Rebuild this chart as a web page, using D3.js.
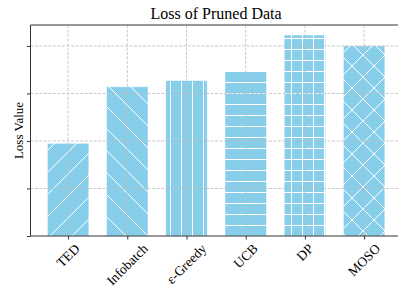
<!DOCTYPE html>
<html>
<head>
<meta charset="utf-8">
<script src="https://cdn.jsdelivr.net/npm/d3@7"></script>
<style>
  body { margin: 0; background: #fff; }
  text { font-family: "Liberation Serif", "DejaVu Serif", serif; fill: #000; }
</style>
</head>
<body>
<div id="chart"></div>
<script>
const methods = ["TED", "Infobatch", "\u03b5-Greedy", "UCB", "DP", "MOSO"];
const lossValues = [1.95, 3.14, 3.27, 3.47, 4.23, 4.0];
const hatches = ["/", "\\", "|", "-", "+", "x"];
const yTicks = [0, 1, 2, 3, 4];

const width = 398, height = 288;
const margin = { left: 30.5, top: 25, bottom: 236 };

const svg = d3.select("#chart")
  .append("svg")
  .attr("width", width)
  .attr("height", height);

// x runs like matplotlib's bar axis: bars at 0..5, small margins each side
const x = d3.scaleLinear().domain([-0.635, 5.635]).range([margin.left, 401.7]);
const y = d3.scaleLinear().domain([0, 4.44]).range([margin.bottom, margin.top]);
const barW = (x(0.7) - x(0));

// hatch patterns: straight lines every 11px, diagonals every 22px
const s = 11, d2 = 22;
const hatchDefs = {
  "/": [d2, `M0,${d2} L${d2},0 M-3,3 L3,-3 M${d2 - 3},${d2 + 3} L${d2 + 3},${d2 - 3}`],
  "\\": [d2, `M0,0 L${d2},${d2} M-3,${d2 - 3} L3,${d2 + 3} M${d2 - 3},-3 L${d2 + 3},3`],
  "|": [s, `M${s / 2},0 L${s / 2},${s}`],
  "-": [s, `M0,${s / 2} L${s},${s / 2}`],
  "+": [s, `M${s / 2},0 L${s / 2},${s} M0,${s / 2} L${s},${s / 2}`],
  "x": [d2, `M0,${d2} L${d2},0 M0,0 L${d2},${d2} M-3,3 L3,-3 M${d2 - 3},${d2 + 3} L${d2 + 3},${d2 - 3} M-3,${d2 - 3} L3,${d2 + 3} M${d2 - 3},-3 L${d2 + 3},3`]
};

const defs = svg.append("defs");
hatches.forEach((h, i) => {
  const [size, path] = hatchDefs[h];
  const p = defs.append("pattern")
    .attr("id", "hatch" + i)
    .attr("patternUnits", "userSpaceOnUse")
    .attr("width", size)
    .attr("height", size);
  p.append("rect").attr("width", size).attr("height", size).attr("fill", "#87ceeb");
  p.append("path")
    .attr("d", path)
    .attr("stroke", "#fff")
    .attr("stroke-width", 1)
    .attr("fill", "none");
});

// bars
svg.append("g")
  .selectAll("rect")
  .data(lossValues)
  .join("rect")
  .attr("x", (d, i) => x(i) - barW / 2)
  .attr("y", d => y(d))
  .attr("width", barW)
  .attr("height", d => y(0) - y(d))
  .attr("fill", (d, i) => `url(#hatch${i})`)
  .attr("stroke", "#fff")
  .attr("stroke-opacity", 0.6)
  .attr("stroke-width", 0.8);

// grid drawn above the bars, like the original
const grid = svg.append("g")
  .attr("stroke", "#bdbdbd")
  .attr("stroke-width", 0.8)
  .attr("stroke-dasharray", "3,1.5");
grid.selectAll(".gy")
  .data(yTicks.slice(1))
  .join("line")
  .attr("x1", margin.left).attr("x2", width)
  .attr("y1", d => y(d)).attr("y2", d => y(d));
grid.selectAll(".gx")
  .data(methods)
  .join("line")
  .attr("x1", (d, i) => x(i)).attr("x2", (d, i) => x(i))
  .attr("y1", margin.top).attr("y2", margin.bottom);

// axes (ticks only, no y labels)
svg.append("g")
  .attr("transform", `translate(${margin.left},0)`)
  .call(d3.axisLeft(y).tickValues(yTicks).tickSize(3.5).tickFormat(""))
  .call(g => g.select(".domain").remove())
  .call(g => g.selectAll("line").attr("stroke", "#333"));

svg.append("g")
  .attr("transform", `translate(0,${margin.bottom})`)
  .call(d3.axisBottom(x).tickValues(d3.range(methods.length)).tickSize(3.5).tickFormat(""))
  .call(g => g.select(".domain").remove())
  .call(g => g.selectAll("line").attr("stroke", "#333"));

// spines
const spine = svg.append("g").attr("stroke", "#333").attr("stroke-width", 1);
spine.append("line").attr("x1", margin.left).attr("x2", margin.left)
  .attr("y1", margin.top).attr("y2", margin.bottom);
spine.append("line").attr("x1", margin.left).attr("x2", width)
  .attr("y1", margin.bottom).attr("y2", margin.bottom);
spine.append("line").attr("x1", margin.left).attr("x2", width)
  .attr("y1", margin.top).attr("y2", margin.top);

// rotated tick labels, centred on the tick, top of rotated box below the axis
const fs = 13.5;
methods.forEach((m, i) => {
  const t = svg.append("text")
    .attr("font-size", fs)
    .attr("text-anchor", "middle")
    .attr("dominant-baseline", "central")
    .text(m);
  const w = t.node().getComputedTextLength();
  const box = (w + fs * 0.9) * Math.SQRT1_2;
  const cx = x(i), cy = margin.bottom + 6 + box / 2;
  t.attr("transform", `translate(${cx},${cy}) rotate(-45)`);
});

// title and y label
svg.append("text")
  .attr("x", (margin.left + 401.7) / 2)
  .attr("y", 19)
  .attr("text-anchor", "middle")
  .attr("font-size", 16)
  .text("Loss of Pruned Data");

svg.append("text")
  .attr("transform", `translate(23,${(margin.top + margin.bottom) / 2}) rotate(-90)`)
  .attr("text-anchor", "middle")
  .attr("font-size", 13)
  .text("Loss Value");
</script>
</body>
</html>
